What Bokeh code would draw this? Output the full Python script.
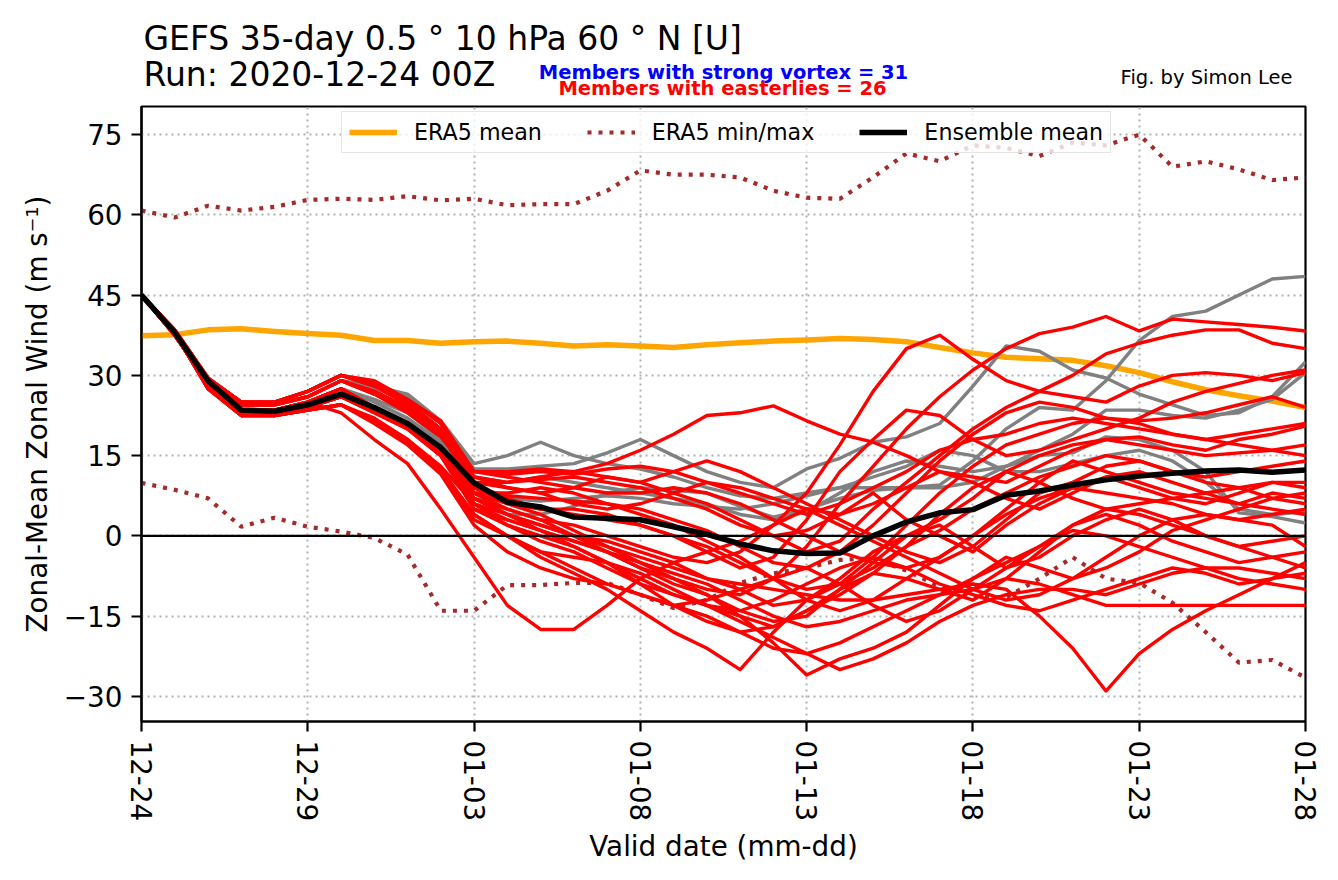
from bokeh.plotting import figure
from bokeh.layouts import column
from bokeh.models import Range1d, FixedTicker, Legend, LegendItem, Span
from bokeh.core.properties import value
from bokeh.embed import file_html
from bokeh.resources import INLINE

days = list(range(36))
tick_days = [0, 5, 10, 15, 20, 25, 30, 35]
tick_labels = ["12-24", "12-29", "01-03", "01-08", "01-13", "01-18", "01-23", "01-28"]
y_ticks = [-30, -15, 0, 15, 30, 45, 60, 75]

era5_mean = [37.4, 37.6, 38.5, 38.7, 38.2, 37.8, 37.5, 36.5, 36.5, 36,
             36.3, 36.4, 36, 35.5, 35.7, 35.5, 35.2, 35.7, 36.1, 36.4,
             36.6, 36.9, 36.7, 36.3, 35.2, 34.2, 33.4, 33.1, 32.8, 31.8,
             30.5, 28.8, 27.3, 26.2, 25.2, 24]
era5_max = [60.8, 59.5, 61.7, 60.8, 61.5, 62.8, 63, 62.8, 63.5, 62.7,
            63, 61.8, 62, 62, 64.5, 68.3, 67.5, 67.5, 67, 64.5,
            63.2, 63, 67, 71.5, 70, 73, 72.5, 71, 73.5, 73,
            75, 69, 70, 68.5, 66.5, 67]
era5_min = [9.9, 8.6, 7, 1.7, 3.4, 1.7, 0.8, -0.4, -3.5, -14,
            -14, -9.2, -9.2, -8.8, -8.8, -11, -13.5, -12, -8.8, -7,
            -6, -4.5, -4.2, -6.5, -9.5, -11.5, -11.5, -8, -4, -8,
            -8.8, -12.5, -18, -23.7, -23.2, -26.5]
ens_mean = [45, 38, 29, 23.5, 23.3, 24.5, 26.5, 24, 21, 16.5,
            9.9, 6.3, 5.4, 3.5, 3.3, 3, 1.7, 0.3, -1.5, -2.8,
            -3.3, -3.2, 0, 2.6, 4.3, 4.9, 7.6, 8.4, 9.5, 10.5,
            11.2, 11.7, 12.1, 12.3, 11.9, 12.3]

# first week (days 0-6) of the members
start_a = [45, 38, 28, 23, 23, 24, 26]
start_b = [45, 38, 29, 24.5, 24.5, 26, 29]
start_c = [45, 37.5, 28.5, 23.5, 23.5, 25, 27.5]
start_d = [45, 38, 27.5, 22.5, 22.5, 23.5, 24.5]
start_e = [45, 38.5, 29.5, 25, 25, 27, 30]
start_f = [45, 38, 28.5, 23.5, 23.5, 25, 23]

# members without easterlies (grey), days 7-35 appended
gray_members = [
    start_b + [28, 26.5, 21.5, 13.5, 15, 17.5, 15, 13.5, 12.5, 11, 9, 7.5, 7, 8, 9, 9, 9, 9.5, 14, 20, 24, 23.5, 29, 36.5, 41, 42, 45, 48, 48.5],
    start_b + [27.5, 25.5, 21, 12.5, 12.5, 13, 13.5, 15.5, 18, 15, 12, 10, 9, 12.5, 14.5, 17.5, 18.5, 21, 28, 35.5, 34.5, 31, 29.5, 26.5, 24.5, 22.5, 23, 26, 32.5],
    start_c + [25, 22, 17.5, 8, 4, 4, 5.5, 8, 9, 8.5, 8, 5.5, 3.5, 5, 7, 8.5, 9, 9, 10, 13, 15, 15.5, 18.5, 18, 16, 12, 4.3, 3.6, 2.4],
    start_e + [28.5, 26, 21, 11, 10, 11, 10, 9, 8, 7, 6, 4, 3, 4.5, 8, 12, 14, 13, 12, 13, 16, 19, 23.5, 23.5, 22.5, 22, 23.5, 25.5, 30.5],
    start_c + [25.5, 23, 18, 9.5, 7, 6.5, 7, 7.5, 7, 6, 5.5, 5, 6, 7.5, 9, 11, 13, 16, 15, 12, 12, 13.5, 15, 16, 14, 10, 5, 4, 4.5],
]

# members with easterlies (red), days 7-35 appended
red_members = [
    start_f + [18, 13.5, 5, -4, -13, -17.5, -17.5, -13, -8, -5, -3, -1, 2, 5, 4, 8, 3, 0, -3, 2, 6, 9, 11, 12, 10, 8, 9, 7, 6],
    start_e + [28.5, 25, 20, 10, 10, 11, 12, 13.5, 16, 19, 22.5, 23, 24.3, 21.5, 19, 17.5, 15, 12, 10, 7, 5, 8, 11, 9, 7, 6, 8, 10, 9],
    start_a + [23, 20, 15, 7, 5, 3, 2, 0, -2, -4, -5, -3, 2, 8, 17, 27, 35, 37.5, 33, 29, 27, 26, 25, 28, 30, 30.5, 30, 29, 30.5],
    start_c + [24, 21, 16, 8, 6, 4, 1, -2, -5, -8, -10, -11, -8, -2, 6, 13, 20, 26, 31, 35, 37.8, 39, 41, 38.3, 40.5, 40, 39.5, 39, 38.3],
    start_b + [26.5, 23, 18.5, 11, 9, 8, 9, 11, 10, 8, 6, 3, 0, -3, -1, 5, 10, 15, 20, 24, 27, 30, 34, 36, 37.5, 38.5, 38.5, 36, 35],
    start_b + [27, 24, 19, 9, 7, 5, 4, 3, 2, 0, -3, -6, -4, 3, 12, 18, 23.5, 22.5, 18, 15, 16, 18, 20, 22, 25, 27, 28.5, 30, 31],
    start_c + [24, 21, 16, 9, 7.5, 7, 6.5, 6, 5, 3, 1, -2, -5, -6, -3, 2, 8, 14, 19, 23, 25, 24, 22, 21.5, 22, 23, 24.5, 26, 24],
    start_a + [23, 20, 15, 6, 4, 2, 0, -1, -3, -5, -8, -10, -13, -12, -9, -4, 2, 8, 13, 17, 19, 21, 22, 21, 19, 18, 19, 20, 21],
    start_b + [27, 24, 19.5, 11, 10, 10.5, 11, 10, 9, 7, 5, 2, 0, 1, 4, 6, 9, 12, 11, 10, 13, 16, 18, 18.5, 17, 16, 18, 19, 20.5],
    start_c + [23.5, 20.5, 15, 5, 3, 1, -1, -3, -6, -9, -11, -14, -16, -15, -10, -5, 0, 3, 7, 12, 15, 17, 18, 17, 16, 15, 15.5, 16, 17],
    start_a + [24, 21, 16, 7, 4, 2, 0, -2, -4, -6, -8, -9, -10, -11, -12, -12, -11, -10, -9, -10, -15, -21, -29, -22, -17.5, -14, -11, -8, -5],
    start_c + [24, 21, 16, 6, 3, 1, -1, -3, -5, -7, -9, -12, -15, -17, -16, -14, -12, -11, -10, -8, -9, -11, -13, -13, -13, -13, -13, -13, -13],
    start_d + [21.5, 17.5, 12, 4, 0, -4, -7, -10, -14, -18, -21, -25, -18, -12, -8, -3, 0, 2, -2, -6, -4, 0, 3, 5, 3, 0, -2, -4, -6],
    start_a + [24, 21, 16, 8, 5, 3, 0, -3, -6, -8, -11, -15, -20, -26, -23, -21, -18, -13, -8, -4, -6, -8, -6, -3, 1, 3, 5, 7, 8],
    start_d + [22, 18, 13, 6, 2, -1, -3, -6, -9, -11, -13, -16, -19, -22, -25, -23, -20, -16, -13, -11, -10, -10, -11, -9, -7, -6, -6, -7, -8],
    start_e + [28, 25.5, 21, 12, 12, 12.5, 12, 11, 10, 12, 14, 12, 9, 6, 3, 0, -3, -5, -2, 3, 8, 10, 13, 14, 12, 10, 9, 10, 10],
    start_c + [24, 21, 16, 8, 8, 9, 8, 6, 4, 2, -1, -4, -8, -12, -14, -12, -8, -4, 0, 5, 10, 14, 12, 10, 8, 7, 6, 8, 7],
    start_d + [21.5, 18, 12.5, 3, 0, -3, -4, -5, -7, -10, -13, -15, -17, -14, -10, -7, -8, -10, -12, -8, -3, 2, 5, 4, 2, 0, -2, -1, 0],
    start_b + [26.5, 23.5, 19, 10, 9, 8, 6, 5, 6, 8, 10, 9, 7, 5, 2, -1, -4, -7, -10, -12, -11, -8, -4, 0, 3, 4, 3, 2, -2],
    start_a + [23.5, 20, 15, 5, 2, 0, -2, -5, -9, -13, -16, -18, -17, -14, -11, -7, -2, 4, 9, 12, 10, 7, 5, 6, 7, 8, 6, 5, 4],
    start_c + [24, 21, 16.5, 9, 6, 5, 5, 4, 2, 0, -2, -5, -8, -10, -9, -6, -2, 1, 5, 8, 11, 13, 15, 14, 12, 11, 12, 13, 14],
    start_d + [21, 17, 11.5, 2, -3, -6, -8, -9, -11, -13, -15, -18, -21, -22, -20, -17, -14, -11, -8, -5, -2, 1, 0, -2, -4, -6, -8, -9, -10],
    start_e + [28, 24.5, 20, 12, 11, 10, 9, 8, 8, 9, 8, 6, 3, 0, -3, -5, -6, -4, 0, 4, 7, 9, 8, 7, 6, 4, 3, 4, 5],
    start_a + [24, 20.5, 15.5, 7, 4, 1, -2, -5, -8, -11, -13, -14, -12, -9, -6, -4, -6, -9, -11, -13, -14, -12, -10, -8, -6, -7, -9, -8, -7],
    start_e + [29, 25.5, 21.5, 12, 11.5, 12, 11.5, 12.5, 13, 12, 10, 8, 6, 4, 6, 9, 12, 16, 18, 19, 21, 22, 21, 20, 19, 18, 17, 16, 15],
    start_d + [21.5, 17.5, 12.5, 4, 0, -3, -6, -9, -11, -13, -12, -10, -8, -6, -9, -13, -16, -14, -10, -6, -2, 2, 4, 2, -1, -3, -5, -4, -3],
]

FONT = "DejaVu Sans"
X0, X1 = 0, 35
Y0, Y1 = -34.7, 80.25
W, H = 1338, 880
TOP_H = 100
FL, FR, FT, FB = 141, 1305, 106, 721

# ---------- header strip with the titles (frame aligned with the chart's frame) ----------
head = figure(width=W, height=TOP_H, x_range=Range1d(FL, FR), y_range=Range1d(TOP_H, 0),
              output_backend="svg", toolbar_location=None, x_axis_type=None, y_axis_type=None,
              min_border_left=FL, min_border_right=W - FR, min_border_top=0, min_border_bottom=0)
if "frame_align" in head.properties():
    head.frame_align = False
head.outline_line_color = None
head.xgrid.visible = False
head.ygrid.visible = False
head.background_fill_color = "white"
head.border_fill_color = "white"

texts = [
    ("GEFS 35-day 0.5 \u00b0 10 hPa 60 \u00b0 N [U]", 143, 37.5, "left", "33px", "black", "normal"),
    ("Run: 2020-12-24 00Z", 143, 73.5, "left", "33px", "black", "normal"),
    ("Members with strong vortex = 31", 723, 72, "center", "19.5px", "blue", "bold"),
    ("Members with easterlies = 26", 722, 88, "center", "19.5px", "red", "bold"),
    ("Fig. by Simon Lee", 1292, 77, "right", "19.5px", "black", "normal"),
]
for t, px, py, al, fs, col, st in texts:
    head.text(x=[px], y=[py], text=[t], text_align=al, text_baseline="alphabetic",
              text_font=value(FONT), text_font_size=value(fs), text_color=col,
              text_font_style=st)

# ---------- main chart ----------
p = figure(width=W, height=H - TOP_H, x_range=Range1d(X0, X1), y_range=Range1d(Y0, Y1),
           output_backend="svg", toolbar_location=None,
           min_border_left=FL, min_border_right=W - FR,
           min_border_top=FT - TOP_H, min_border_bottom=H - FB)
if "frame_align" in p.properties():
    p.frame_align = False
p.background_fill_color = "white"
p.border_fill_color = "white"
p.outline_line_color = "black"
p.outline_line_width = 2.2

for ax in (p.xaxis, p.yaxis):
    ax.axis_line_width = 2.2
    ax.major_tick_line_width = 2.2
    ax.major_tick_out = 10
    ax.major_tick_in = 0
    ax.minor_tick_out = 0
    ax.minor_tick_in = 0
    ax.major_label_text_font = FONT
    ax.major_label_text_font_size = "27.8px"
    ax.major_label_text_color = "black"
    ax.axis_label_text_font = FONT
    ax.axis_label_text_font_size = "27.8px"
    ax.axis_label_text_font_style = "normal"
    ax.axis_label_text_color = "black"
    ax.major_label_standoff = 9

p.xaxis.ticker = FixedTicker(ticks=tick_days)
p.xaxis.major_label_overrides = {d: l for d, l in zip(tick_days, tick_labels)}
p.xaxis.major_label_orientation = "vertical"
p.xaxis.axis_label = "Valid date (mm-dd)"
p.xaxis.axis_label_standoff = 6

p.yaxis.ticker = FixedTicker(ticks=y_ticks)
p.yaxis.major_label_overrides = {t: (str(t).replace("-", "\u2212")) for t in y_ticks}
p.yaxis.axis_label = "Zonal-Mean Zonal Wind (m s\u207b\u00b9)"
p.yaxis.axis_label_standoff = 7

p.xgrid.ticker = FixedTicker(ticks=tick_days)
p.ygrid.ticker = FixedTicker(ticks=y_ticks)
for g in (p.xgrid, p.ygrid):
    g.grid_line_color = "#b0b0b0"
    g.grid_line_width = 2
    g.grid_line_dash = "2 4"

# ERA5 climatology
r_mean = p.line(days, era5_mean, line_color="orange", line_width=5.5, line_join="round")
r_max = p.line(days, era5_max, line_color="brown", line_width=4.2, line_dash="4 7")
p.line(days, era5_min, line_color="brown", line_width=4.2, line_dash="4 7")

# ensemble members
for m in gray_members:
    p.line(days, m, line_color="gray", line_width=3.4, line_join="round")
for m in red_members:
    p.line(days, m, line_color="red", line_width=3.4, line_join="round")

p.add_layout(Span(location=0, dimension="width", line_color="black", line_width=2.2))

r_ens = p.line(days, ens_mean, line_color="black", line_width=5.5, line_join="round")

legend = Legend(items=[LegendItem(label="ERA5 mean", renderers=[r_mean]),
                       LegendItem(label="ERA5 min/max", renderers=[r_max]),
                       LegendItem(label="Ensemble mean", renderers=[r_ens])],
                orientation="horizontal", location=(200, 615 - 9 - 38))
legend.label_text_font = FONT
legend.label_text_font_size = "22.2px"
legend.label_text_color = "black"
legend.glyph_width = 48
legend.glyph_height = 24
legend.label_height = 24
legend.label_standoff = 17
legend.spacing = 45
legend.padding = 7
legend.margin = 0
legend.border_line_color = "#cccccc"
legend.border_line_width = 1.5
legend.background_fill_alpha = 0.8
p.add_layout(legend, "center")

layout = column(head, p, spacing=0)
open("out.html", "w").write(file_html(layout, INLINE))
